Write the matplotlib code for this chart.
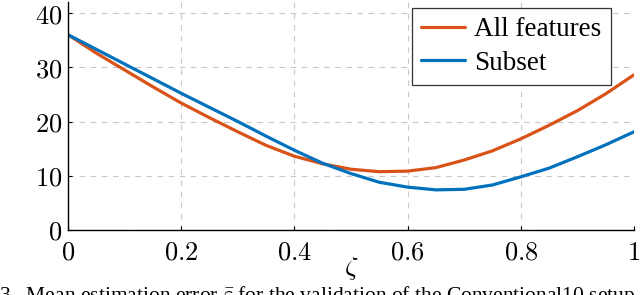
import matplotlib
matplotlib.use("Agg")
import matplotlib.pyplot as plt
from matplotlib.ticker import FuncFormatter

zeta = [0.0, 0.05, 0.1, 0.15, 0.2, 0.25, 0.3, 0.35, 0.4, 0.45, 0.5, 0.55, 0.6,
        0.65, 0.7, 0.75, 0.8, 0.85, 0.9, 0.95, 1.0]
all_features = [36.0, 32.6, 29.5, 26.4, 23.4, 20.7, 18.1, 15.6, 13.6, 12.2, 11.2,
                10.75, 10.85, 11.5, 12.9, 14.6, 16.8, 19.3, 22.0, 25.1, 28.6]
subset = [36.0, 33.3, 30.6, 27.9, 25.2, 22.6, 20.0, 17.3, 14.7, 12.3, 10.4,
          8.8, 7.9, 7.4, 7.5, 8.3, 9.8, 11.4, 13.5, 15.7, 18.1]
xticks = [0, 0.2, 0.4, 0.6, 0.8, 1]
yticks = [0, 10, 20, 30, 40]
series_labels = ["All features", "Subset"]
caption = r"3.  Mean estimation error $\bar{\varepsilon}$ for the validation of the Conventional10 setup."

plt.rcParams['mathtext.fontset'] = 'cm'

fig = plt.figure(figsize=(6.4, 2.95), dpi=100)
ax = fig.add_axes([68/640, 1 - 230/295, 566/640, 228/295])

ax.plot(zeta, all_features, color='#D95319', lw=2.3, label=series_labels[0],
        solid_capstyle='round', solid_joinstyle='round')
ax.plot(zeta, subset, color='#0072BD', lw=2.3, label=series_labels[1],
        solid_capstyle='round', solid_joinstyle='round')

ax.set_xlim(0, 1)
ax.set_ylim(0, 228/5.425)
ax.set_xticks(xticks)
ax.set_yticks(yticks)

def fmt(v, pos):
    s = ('%g' % v)
    return r'$\mathrm{%s}$' % s
ax.xaxis.set_major_formatter(FuncFormatter(fmt))
ax.yaxis.set_major_formatter(FuncFormatter(fmt))
ax.tick_params(direction='in', length=3, width=0.8, labelsize=19, pad=4)
ax.tick_params(axis='x', pad=7)

ax.grid(True, color='#c8c8c8', linestyle=(0, (5, 5)), linewidth=0.8)
ax.set_axisbelow(True)
for s in ['top', 'right']:
    ax.spines[s].set_visible(False)
for s in ['left', 'bottom']:
    ax.spines[s].set_linewidth(1.0)

fig.text(351/640, 1 - 268/295, r'$\zeta$', fontsize=19, ha='center', va='center')

leg = fig.legend(loc='upper left', bbox_to_anchor=(412/640, 1 - 8/295),
                 prop={'family': 'Liberation Serif', 'size': 19.5},
                 fancybox=False, edgecolor='#333333', framealpha=1,
                 handlelength=1.6, borderpad=0.35, labelspacing=0.3,
                 handletextpad=0.35, borderaxespad=0)
leg.get_frame().set_linewidth(0.9)

fig.text(-1/640, 1 - 301/295, caption, family='Liberation Serif', fontsize=15.5,
         ha='left', va='baseline')

fig.savefig('out.png', dpi=100)
